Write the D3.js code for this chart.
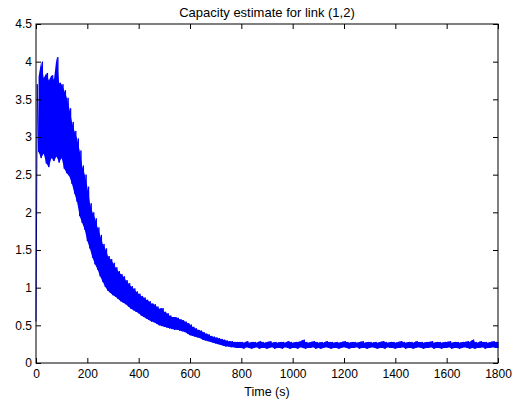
<!DOCTYPE html>
<html>
<head>
<meta charset="utf-8">
<script src="https://cdn.jsdelivr.net/npm/d3@7"></script>
<style>
  body { margin: 0; background: #fff; }
  text { font-family: "Liberation Sans", Arial, Helvetica, sans-serif; fill: #000; }
</style>
</head>
<body>
<div id="chart"></div>
<script>
// Capacity estimate for link (1,2) - noisy band
// upper/lower envelope of the signal, sampled every 10 s from 0 to 1800
const sampleStep = 10;
const upper = [
  3.70,3.80,4.00,3.78,3.85,3.75,3.82,3.76,4.06,3.72,
  3.70,3.62,3.52,3.38,3.20,3.08,2.98,2.82,2.62,2.50,
  2.34,2.12,2.00,1.92,1.80,1.70,1.58,1.52,1.42,1.38,
  1.33,1.27,1.22,1.18,1.15,1.10,1.06,1.02,0.99,0.95,
  0.92,0.89,0.87,0.84,0.82,0.79,0.78,0.75,0.72,0.73,
  0.68,0.66,0.63,0.61,0.61,0.60,0.58,0.57,0.55,0.53,
  0.51,0.48,0.46,0.44,0.43,0.41,0.39,0.38,0.36,0.35,
  0.34,0.33,0.32,0.31,0.30,0.29,0.29,0.28,0.28,0.28,
  0.28,0.27,0.29,0.27,0.28,0.28,0.27,0.29,0.28,0.27,
  0.28,0.29,0.27,0.28,0.27,0.28,0.28,0.27,0.29,0.28,
  0.27,0.28,0.28,0.29,0.31,0.28,0.27,0.28,0.29,0.28,
  0.27,0.28,0.27,0.29,0.28,0.28,0.27,0.28,0.27,0.28,
  0.29,0.28,0.27,0.28,0.28,0.27,0.28,0.29,0.27,0.28,
  0.28,0.27,0.28,0.27,0.28,0.29,0.28,0.27,0.28,0.28,
  0.27,0.28,0.29,0.28,0.27,0.28,0.28,0.27,0.29,0.28,
  0.28,0.27,0.28,0.28,0.29,0.27,0.28,0.28,0.27,0.28,
  0.28,0.29,0.27,0.28,0.28,0.27,0.28,0.28,0.29,0.28,
  0.31,0.28,0.27,0.29,0.28,0.28,0.27,0.28,0.29,0.28,
  0.28
];
const lower = [
  0.55,2.80,2.72,2.78,2.65,2.60,2.72,2.68,2.74,2.66,
  2.72,2.58,2.52,2.48,2.38,2.25,2.14,1.95,1.86,1.77,
  1.62,1.52,1.40,1.31,1.24,1.15,1.08,1.01,0.96,0.93,
  0.90,0.88,0.85,0.82,0.80,0.78,0.75,0.72,0.70,0.68,
  0.66,0.63,0.61,0.59,0.57,0.55,0.54,0.52,0.50,0.49,
  0.48,0.47,0.46,0.45,0.44,0.44,0.43,0.42,0.41,0.39,
  0.37,0.36,0.35,0.34,0.33,0.31,0.30,0.29,0.28,0.27,
  0.26,0.25,0.24,0.23,0.22,0.22,0.21,0.21,0.20,0.20,
  0.20,0.19,0.21,0.20,0.19,0.20,0.21,0.19,0.20,0.20,
  0.19,0.20,0.21,0.19,0.20,0.20,0.19,0.21,0.20,0.19,
  0.20,0.20,0.19,0.21,0.20,0.19,0.20,0.20,0.21,0.19,
  0.20,0.19,0.20,0.21,0.20,0.19,0.20,0.20,0.19,0.20,
  0.21,0.20,0.19,0.20,0.20,0.21,0.19,0.20,0.20,0.19,
  0.20,0.21,0.20,0.19,0.20,0.20,0.19,0.21,0.20,0.20,
  0.19,0.20,0.20,0.21,0.19,0.20,0.20,0.19,0.20,0.21,
  0.20,0.19,0.20,0.20,0.21,0.19,0.20,0.20,0.19,0.20,
  0.20,0.21,0.19,0.20,0.20,0.19,0.20,0.21,0.20,0.19,
  0.20,0.19,0.20,0.20,0.21,0.19,0.20,0.20,0.21,0.20,
  0.20
];
const xTicks = [0, 200, 400, 600, 800, 1000, 1200, 1400, 1600, 1800];
const yTicks = [0, 0.5, 1, 1.5, 2, 2.5, 3, 3.5, 4, 4.5];

const W = 522, H = 403;
const margin = { top: 24, right: 24, bottom: 40, left: 36 };
const width = W - margin.left - margin.right;
const height = H - margin.top - margin.bottom;

const svg = d3.select('#chart').append('svg')
  .attr('width', W)
  .attr('height', H);

const g = svg.append('g')
  .attr('transform', `translate(${margin.left},${margin.top})`);

const x = d3.scaleLinear().domain([0, 1800]).range([0, width]);
const y = d3.scaleLinear().domain([0, 4.5]).range([height, 0]);

const data = upper.map((u, i) => ({ t: i * sampleStep, hi: u, lo: lower[i] }));

// solid body of the noise band
g.append('path')
  .datum(data.slice(1))
  .attr('fill', '#0000ff')
  .attr('d', d3.area().x(d => x(d.t)).y0(d => y(d.lo)).y1(d => y(d.hi)));

// trace swings low -> high inside each sample interval
const pts = [];
data.forEach(d => {
  pts.push([d.t, d.lo]);
  pts.push([Math.min(d.t + sampleStep / 2, 1800), d.hi]);
});

g.append('path')
  .datum(pts)
  .attr('fill', 'none')
  .attr('stroke', '#0000ff')
  .attr('stroke-width', 1)
  .attr('d', d3.line().x(d => x(d[0])).y(d => y(d[1])));

// axes, MATLAB style: ticks inside on all four sides
const tickLen = 5;
const fmt = d => String(d);
const axisStyle = sel => {
  sel.select('.domain').remove();
  sel.selectAll('line').attr('stroke', '#000');
  sel.selectAll('text').style('font-size', '12px');
};

g.append('g')
  .attr('transform', `translate(0,${height})`)
  .call(d3.axisBottom(x).tickValues(xTicks).tickSize(-tickLen).tickPadding(6).tickFormat(fmt))
  .call(axisStyle);
g.append('g')
  .call(d3.axisTop(x).tickValues(xTicks).tickSize(-tickLen).tickFormat(''))
  .call(axisStyle);
g.append('g')
  .call(d3.axisLeft(y).tickValues(yTicks).tickSize(-tickLen).tickPadding(4).tickFormat(fmt))
  .call(axisStyle);
g.append('g')
  .attr('transform', `translate(${width},0)`)
  .call(d3.axisRight(y).tickValues(yTicks).tickSize(-tickLen).tickFormat(''))
  .call(axisStyle);

g.append('rect')
  .attr('width', width)
  .attr('height', height)
  .attr('fill', 'none')
  .attr('stroke', '#000')
  .attr('stroke-width', 1);

g.append('text')
  .attr('x', width / 2)
  .attr('y', -7.5)
  .attr('text-anchor', 'middle')
  .style('font-size', '13px')
  .text('Capacity estimate for link (1,2)');

g.append('text')
  .attr('x', width / 2)
  .attr('y', height + 32.5)
  .attr('text-anchor', 'middle')
  .style('font-size', '12.5px')
  .text('Time (s)');
</script>
</body>
</html>
